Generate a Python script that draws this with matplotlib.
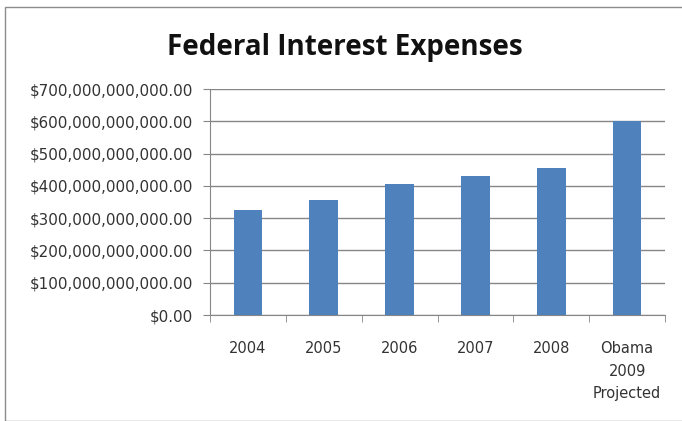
import matplotlib.pyplot as plt
from matplotlib.patches import Rectangle
from matplotlib.ticker import FuncFormatter

categories = ['2004', '2005', '2006', '2007', '2008', 'Obama\n2009\nProjected']
expenses = [325e9, 355e9, 405e9, 431e9, 454e9, 600e9]
y_ticks = [0, 100e9, 200e9, 300e9, 400e9, 500e9, 600e9, 700e9]

plt.rcParams['font.family'] = ['DejaVu Sans']

fig = plt.figure(figsize=(6.82, 4.21), dpi=100)
ax = fig.add_axes([210 / 682, 1 - 315 / 421, 455 / 682, 226 / 421])

# outer frame of the chart area
fig.patches.append(Rectangle((5 / 682, 0), 1.2, 1 - 7 / 421, transform=fig.transFigure,
                             fill=False, edgecolor='#8c8c8c', linewidth=1.0))

x = range(len(categories))
ax.bar(x, expenses, width=0.38, color='#4f81bd', zorder=3)

ax.set_ylim(0, 700e9)
ax.set_xlim(-0.5, len(categories) - 0.5)
ax.set_yticks(y_ticks)
ax.yaxis.set_major_formatter(FuncFormatter(lambda v, p: f'${v:,.2f}'))
ax.grid(axis='y', color='#868686', linewidth=1.0, zorder=0)

ax.set_xticks(list(x))
ax.set_xticklabels(categories, fontsize=10.5, color='#333333', linespacing=1.6)
ax.set_xticks([i + 0.5 for i in range(-1, len(categories))], minor=True)
ax.tick_params(axis='x', which='major', length=0, pad=19)
ax.tick_params(axis='x', which='minor', length=5, color='#868686', direction='out')
ax.tick_params(axis='y', length=5, color='#868686', labelsize=10.9, labelcolor='#333333', pad=7)

for side in ['top', 'right']:
    ax.spines[side].set_visible(False)
ax.spines['left'].set_color('#868686')
ax.spines['bottom'].set_color('#868686')

fig.text(345 / 682, 1 - 55 / 421, 'Federal Interest Expenses', ha='center', va='baseline',
         fontsize=20, fontweight='bold', color='#111111', family='Open Sans')

fig.savefig('out.png', dpi=100)
